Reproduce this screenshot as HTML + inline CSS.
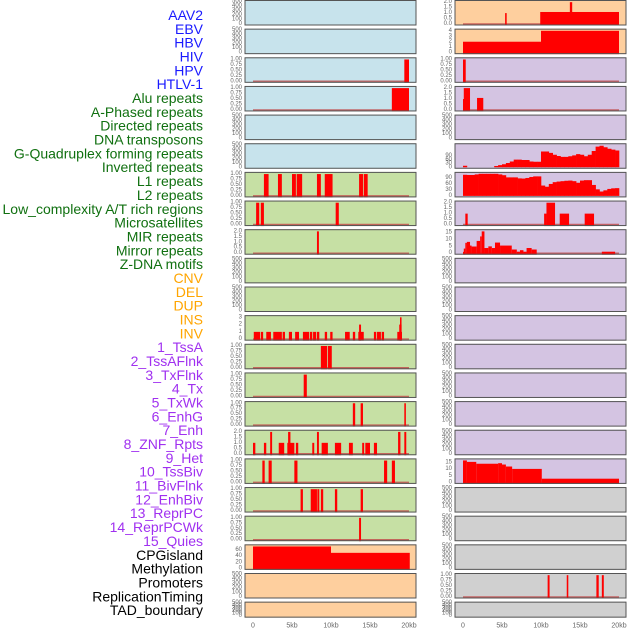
<!DOCTYPE html>
<html><head><meta charset="utf-8">
<style>
html,body{margin:0;padding:0;background:#fff;width:630px;height:630px;overflow:hidden}
svg{display:block}
</style></head>
<body>
<svg id="chart" width="630" height="630" viewBox="0 0 630 630" xmlns="http://www.w3.org/2000/svg" font-family="Liberation Sans, sans-serif">
<g id="labels"></g>
<g id="panels"></g>
<g id="xaxes"></g>
</svg>
<script>
// ---- labels ----
const trackLabels = ["AAV2","EBV","HBV","HIV","HPV","HTLV-1","Alu repeats","A-Phased repeats","Directed repeats","DNA transposons","G-Quadruplex forming repeats","Inverted repeats","L1 repeats","L2 repeats","Low_complexity A/T rich regions","Microsatellites","MIR repeats","Mirror repeats","Z-DNA motifs","CNV","DEL","DUP","INS","INV","1_TssA","2_TssAFlnk","3_TxFlnk","4_Tx","5_TxWk","6_EnhG","7_Enh","8_ZNF_Rpts","9_Het","10_TssBiv","11_BivFlnk","12_EnhBiv","13_ReprPC","14_ReprPCWk","15_Quies","CPGisland","Methylation","Promoters","ReplicationTiming","TAD_boundary"];
const labelGroups = [6,13,5,15,5]; // counts per colour group
const labelColors = ["#1a1aff","#107010","#ffa500","#a030f0","#000000"];

// ---- x axis ----
const xTickValues = [0,5,10,15,20];
const xTickLabels = ["0","5kb","10kb","15kb","20kb"];

// ---- y tick sets ----
const ticksEmpty = [0,100,200,300,400,500];
const ticks1 = [0,0.25,0.5,0.75,1];
const ticks1Labels = ["0.00","0.25","0.50","0.75","1.00"];
const ticks2 = [0,0.5,1,1.5,2];
const ticks2Labels = ["0.0","0.5","1.0","1.5","2.0"];
const ticks3 = [0,1,2,3];
const ticks4 = [0,1,2,3,4];
const ticksCpg = [0,20,40,60];
const ticksArea = [0,30,60,90];
const ticks15 = [0,5,10,15];

// ---- left column data (intervals: start kb, end kb, value) ----
const hivBars = [[19.4,20,1]];
const hpvBars = [[17.8,20,1]];
const l1Bars = [[1.4,2.0,1],[3.2,3.7,1],[5.0,5.5,1],[5.6,6.3,1],[8.2,8.7,1],[9.2,10.2,1],[13.6,14.1,1],[14.2,14.7,1]];
const lowcBars = [[0.4,0.8,1],[1.0,1.4,1],[10.6,11.0,1]];
const mirBars = [[8.2,8.45,2]];
const insBars = [[0.1,0.9,1],[1.0,1.3,1],[1.7,2.3,1],[2.6,3.7,1],[3.8,4.1,1],[4.6,5.0,1],[5.4,5.9,1],[6.4,7.2,1],[7.3,7.6,1],[7.7,8.1,1],[8.2,8.5,1],[9.2,9.5,1],[9.9,10.2,1],[11.8,12.4,1],[12.8,13.1,1],[13.5,14.2,1],[13.6,13.85,2],[15.5,15.8,1],[15.9,16.4,1],[16.5,16.8,1],[18.5,19.1,1],[18.75,19.05,2],[18.85,19.0,3]];
const tssABars = [[8.7,9.5,1],[9.6,10.1,1]];
const txFlnkBars = [[6.5,6.9,1]];
const txWkBars = [[12.8,13.1,1],[13.8,14.1,1],[19.4,19.6,1]];
const znfBars = [[0,0.3,1],[1.4,1.7,1],[2.2,2.45,2],[3.3,4.0,1],[4.4,5.3,1],[4.5,4.8,2],[5.5,5.8,1],[7.6,7.85,1],[8.2,8.45,2],[8.8,9.6,1],[10.5,11.3,1],[12.3,12.8,1],[14.0,14.25,1],[14.4,15.0,1],[15.5,15.9,1],[18.6,18.9,2],[19.4,19.65,2]];
const hetBars = [[1.2,1.5,1],[2.0,2.4,1],[5.3,5.7,1],[16.8,17.2,1],[17.8,18.2,1]];
const bivFlnkBars = [[6.1,6.4,1],[7.4,8.2,1],[8.25,8.5,1],[8.7,9.0,1],[10.5,10.8,1],[13.8,14.1,1]];
const enhBivBars = [[13.6,13.85,1]];
const cpgBars = [[0,10,72],[10,20.1,51]];

// ---- right column data ----
const rAav2Bars = [[5.4,5.6,1],[9.9,20,1.1],[13.7,14.0,2]];
const rEbvBars = [[0,10,2],[10,20,4]];
const rHbvBars = [[0,0.35,1]];
const rHivBars = [[0,0.15,1],[0.1,0.9,2],[1.8,2.6,1.1]];
const gquadBins = [12,0,0,0,0,0,0,0,10,17,24,34,46,61,61,58,58,46,44,44,126,126,115,100,90,83,83,88,95,105,100,88,100,130,165,172,160,148,141,134];
const invBins = [106,105,105,108,111,111,111,111,111,108,104,93,93,93,88,87,90,95,98,98,52,46,60,69,72,74,76,77,74,66,77,79,79,55,33,22,28,35,38,39];
const rL2Bars = [[0.3,0.6,1],[10.4,10.7,1],[10.7,11.8,2],[12.4,13.6,1],[15.6,16.8,1]];
const rMicroBars = [[0,0.1,1],[0.1,0.3,3.4],[0.3,0.5,7.6],[0.5,0.9,8.3],[0.9,1.1,5.6],[1.1,1.75,4.9],[1.75,2.2,9],[2.2,2.4,12.3],[2.4,2.75,16],[2.75,3.25,3.8],[3.25,3.7,5],[3.7,4.1,3.8],[4.1,4.75,7.8],[4.75,6.25,5.6],[6.25,6.9,2.7],[6.9,7.3,1.1],[7.3,7.75,2.2],[7.75,8.15,1.1],[8.15,8.8,3.8],[8.8,9.45,2.7],[17.8,19.5,1.1]];
const rHetBars = [[0,0.5,16.6],[0.5,1.7,15.5],[1.7,4.5,14.1],[4.5,5,14.5],[5,5.5,13.5],[5.5,6.3,12],[6.3,10.1,10.2],[10.1,20,2.8]];
const rPromBars = [[10.85,11.1,1],[13.3,13.5,1],[17.1,17.4,1],[17.8,18.05,1]];

const BLUE="#c7e3ec", GREEN="#c6e0a4", ORANGE="#fecf9e", PURPLE="#d4c4e2", GREY="#d0d0d0";
function E(max,ticks,labels){return {max:max,ticks:ticks,labels:labels};}
const AX_EMPTY=E(500,ticksEmpty,null), AX1=E(1.03,ticks1,ticks1Labels), AX2=E(2.06,ticks2,ticks2Labels);
const leftPanels = [
 [BLUE,AX_EMPTY,null],[BLUE,AX_EMPTY,null],[BLUE,AX1,hivBars],[BLUE,AX1,hpvBars],[BLUE,AX_EMPTY,null],[BLUE,AX_EMPTY,null],
 [GREEN,AX1,l1Bars],[GREEN,AX1,lowcBars],[GREEN,AX2,mirBars],[GREEN,AX_EMPTY,null],[GREEN,AX_EMPTY,null],
 [GREEN,E(3.09,ticks3,null),insBars],[GREEN,AX1,tssABars],[GREEN,AX1,txFlnkBars],[GREEN,AX1,txWkBars],[GREEN,AX2,znfBars],
 [GREEN,AX1,hetBars],[GREEN,AX1,bivFlnkBars],[GREEN,AX1,enhBivBars],[ORANGE,E(74,ticksCpg,null),cpgBars],[ORANGE,AX_EMPTY,null],[ORANGE,AX_EMPTY,null]
];
const rightPanels = [
 [ORANGE,AX2,rAav2Bars],[ORANGE,E(4.12,ticks4,null),rEbvBars],[PURPLE,AX1,rHbvBars],[PURPLE,AX2,rHivBars],[PURPLE,AX_EMPTY,null],
 [PURPLE,E(180,ticksArea,null),"gquad"],[PURPLE,E(113,ticksArea,null),"inv"],[PURPLE,AX2,rL2Bars],[PURPLE,E(16.5,ticks15,null),rMicroBars],
 [PURPLE,AX_EMPTY,null],[PURPLE,AX_EMPTY,null],[PURPLE,AX_EMPTY,null],[PURPLE,AX_EMPTY,null],[PURPLE,AX_EMPTY,null],[PURPLE,AX_EMPTY,null],[PURPLE,AX_EMPTY,null],
 [PURPLE,E(17,ticks15,null),rHetBars],[GREY,AX_EMPTY,null],[GREY,AX_EMPTY,null],[GREY,AX_EMPTY,null],[GREY,AX1,rPromBars],[GREY,AX_EMPTY,null]
];

const NS="http://www.w3.org/2000/svg";
function mk(tag,attrs,parent){const e=document.createElementNS(NS,tag);for(const k in attrs)e.setAttribute(k,attrs[k]);parent.appendChild(e);return e;}

// labels
const lg=document.getElementById('labels');
let gi=0,cnt=0;
trackLabels.forEach((t,i)=>{
  if(cnt>=labelGroups[gi]){gi++;cnt=0;}
  cnt++;
  const tx=mk('text',{x:203,y:15+i*13.84,'text-anchor':'end','dominant-baseline':'central','font-size':'14',fill:labelColors[gi]},lg);
  
  
  tx.textContent=t;
});

const pg=document.getElementById('panels');
function rowTop(i){return i*28.65;}
function rowH(i){return i===21?16:25.5;}
function drawPanel(p,i,x0,side){
  const color=p[0],ax=p[1],data=p[2];
  const top=rowTop(i),h=rowH(i),bot=top+h,w=171;
  const g=mk('g',{},pg);
  
  
  mk('rect',{x:x0,y:top,width:w,height:h,fill:color},g);
  const xs=kb=>x0+8+kb*7.8;
  const ys=v=>bot-1.5-v/ax.max*(h-3);
  ax.ticks.forEach((tv,k)=>{
    const t=mk('text',{x:x0-3,y:ys(tv),'text-anchor':'end','dominant-baseline':'central','font-size':'6',fill:'#666'},g);
    
    
    t.textContent=ax.labels?ax.labels[k]:String(tv);
  });
  if(data){
    if(typeof data==='string'){
      const bins=data==='gquad'?gquadBins:invBins;
      bins.forEach((v,k)=>{
        if(v<=0)return;
        const r=mk('rect',{x:xs(k*0.5),y:ys(v),width:xs((k+1)*0.5)-xs(k*0.5)+0.3,height:ys(0)-ys(v),fill:'#ff0000'},g);
        
        
      });
    } else {
      const bl=mk('line',{x1:xs(0),x2:xs(20),y1:ys(0),y2:ys(0),stroke:'#c04848','stroke-width':1.5,'stroke-opacity':0.8},g);
      
      
      data.forEach(d=>{
        const wpx=Math.max(1.5,xs(d[1])-xs(d[0]));
        const r=mk('rect',{x:xs(d[0]),y:ys(d[2]),width:wpx,height:ys(0)-ys(d[2])+1.5,fill:'#ff0000'},g);
        
        
      });
    }
  }
  mk('rect',{x:x0,y:top+0.5,width:w,height:h-1,fill:'none',stroke:'#555','stroke-width':1},g);
}
leftPanels.forEach((p,i)=>drawPanel(p,i,245,'left'));
rightPanels.forEach((p,i)=>drawPanel(p,i,455,'right'));

const xg=document.getElementById('xaxes');
[245,455].forEach(x0=>{
  xTickValues.forEach((v,k)=>{
    const t=mk('text',{x:x0+8+v*7.8,y:626,'text-anchor':'middle','dominant-baseline':'central','font-size':'7',fill:'#666'},xg);
    
    
    t.textContent=xTickLabels[k];
  });
});
</script>
</body></html>
